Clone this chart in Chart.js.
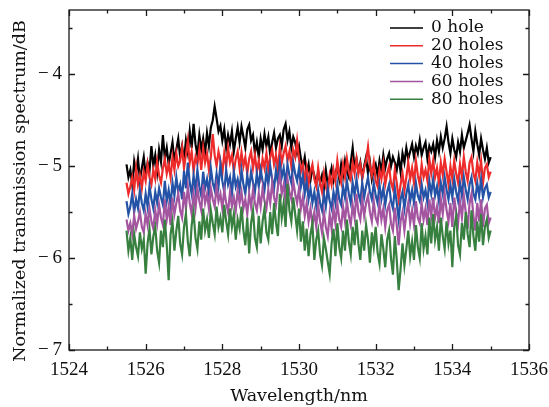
<!DOCTYPE html>
<html>
<head>
<meta charset="utf-8">
<script src="https://cdn.jsdelivr.net/npm/chart.js@4.4.0/dist/chart.umd.min.js"></script>
<style>
  html, body { margin: 0; padding: 0; background: #fff; }
</style>
</head>
<body>
<canvas id="chart" width="549" height="407"></canvas>
<script>
// wavelength grid: 1525.50 nm to 1535.00 nm, one sample every 0.05 nm
var startWl = 1525.5;
var stepWl = 0.05;

var seriesNames = ['0 hole', '20 holes', '40 holes', '60 holes', '80 holes'];
var seriesColors = ['#000000', '#ee2b2b', '#2352a6', '#a3559f', '#37803f'];
var yTitle = 'Normalized transmission spectrum/dB';

// values (dB), one row per nm
var hole0 = [
    -4.98, -5.12, -5.04, -5.20, -4.95, -5.08, -4.92, -5.15, -5.02, -4.90,
    -5.10, -4.96, -5.05, -4.78, -5.00, -4.88, -5.06, -4.82, -4.95, -4.66,
    -4.92, -4.80, -4.98, -4.86, -4.74, -4.95, -4.82, -4.70, -4.90, -4.78,
    -4.94, -4.72, -4.85, -4.62, -4.80, -4.54, -4.76, -4.88, -4.66, -4.82,
    -4.70, -4.86, -4.64, -4.78, -4.58, -4.50, -4.35, -4.48, -4.62, -4.56,
    -4.72, -4.60, -4.80, -4.66, -4.76, -4.62, -4.84, -4.70, -4.58, -4.74,
    -4.57, -4.68, -4.80, -4.60, -4.55, -4.72, -4.66, -4.86, -4.74, -4.90,
    -4.70, -4.82, -4.65, -4.78, -4.68, -4.88, -4.74, -4.64, -4.80, -4.70,
    -4.66, -4.78, -4.60, -4.54, -4.72, -4.62, -4.80, -4.68, -4.74, -4.86,
    -4.78, -4.92, -5.00, -4.90, -5.08, -4.98, -5.15, -5.02, -5.10, -5.20,
    -5.06, -5.18, -5.10, -5.25, -5.04, -5.20, -5.12, -5.02, -5.16, -5.08,
    -5.00, -5.14, -4.98, -5.10, -4.94, -5.06, -5.12, -4.96, -4.80, -5.02,
    -4.92, -5.06, -4.96, -5.12, -5.00, -4.90, -5.08, -4.96, -5.14, -5.04,
    -4.98, -5.10, -4.94, -5.06, -4.88, -5.02, -4.92, -4.86, -5.00, -4.90,
    -4.96, -5.04, -4.90, -5.06, -4.86, -4.96, -4.80, -4.92, -4.84, -4.76,
    -4.90, -4.78, -4.86, -4.72, -4.88, -4.80, -4.74, -4.92, -4.78, -4.84,
    -4.76, -4.90, -4.72, -4.84, -4.68, -4.80, -4.70, -4.57, -4.74, -4.86,
    -4.70, -4.82, -4.90, -4.74, -4.84, -4.66, -4.80, -4.72, -4.64, -4.55,
    -4.70, -4.84, -4.62, -4.76, -4.88, -4.70, -4.82, -4.92, -4.80, -4.96, -4.90
];
var holes20 = [
    -5.18, -5.30, -5.22, -5.12, -5.26, -5.02, -5.20, -5.10, -5.24, -5.06,
    -5.16, -4.98, -5.12, -5.20, -5.04, -5.14, -4.95, -5.10, -5.18, -5.02,
    -4.92, -5.08, -4.98, -5.12, -4.90, -5.04, -4.86, -5.00, -4.94, -4.80,
    -5.02, -4.88, -4.72, -4.96, -4.84, -5.06, -4.90, -4.98, -4.82, -5.04,
    -4.80, -4.96, -4.86, -5.04, -4.90, -4.65, -4.88, -5.00, -4.84, -4.94,
    -5.08, -4.86, -5.00, -4.80, -4.96, -4.88, -5.06, -4.92, -4.84, -5.02,
    -4.85, -5.00, -4.90, -5.08, -4.92, -4.84, -5.02, -4.88, -5.06, -4.94,
    -5.10, -4.92, -5.02, -4.86, -5.04, -4.90, -4.82, -4.98, -4.88, -5.04,
    -4.80, -4.96, -4.86, -4.78, -4.94, -4.84, -5.00, -4.82, -4.90, -4.72,
    -4.92, -5.06, -4.98, -5.15, -5.02, -5.20, -5.06, -4.98, -5.14, -5.22,
    -5.02, -5.18, -5.28, -5.08, -5.22, -5.30, -5.10, -5.20, -5.04, -5.16,
    -4.94, -5.10, -5.18, -4.98, -5.12, -4.92, -5.06, -5.14, -4.96, -5.08,
    -4.92, -5.08, -4.98, -5.14, -5.02, -4.94, -4.79, -5.00, -5.10, -4.96,
    -5.16, -5.22, -5.04, -5.14, -4.98, -5.20, -5.08, -5.00, -5.18, -5.25,
    -5.04, -5.18, -5.36, -5.20, -5.08, -5.26, -5.12, -4.96, -5.14, -5.02,
    -5.18, -4.94, -5.10, -5.20, -4.98, -5.12, -5.04, -5.16, -4.92, -5.08,
    -4.94, -5.12, -5.02, -5.18, -4.96, -5.10, -4.92, -5.06, -5.20, -5.00,
    -5.14, -4.94, -5.08, -5.18, -4.98, -5.12, -4.90, -5.06, -5.16, -4.96,
    -4.90, -5.08, -5.16, -4.96, -5.10, -4.94, -5.18, -5.02, -4.98, -5.12, -5.06
];
var holes40 = [
    -5.38, -5.52, -5.44, -5.30, -5.50, -5.36, -5.46, -5.26, -5.40, -5.48,
    -5.30, -5.44, -5.22, -5.36, -5.46, -5.28, -5.40, -5.24, -5.34, -5.42,
    -5.16, -5.38, -5.26, -5.42, -5.18, -5.32, -5.12, -5.28, -5.20, -5.36,
    -5.05, -5.24, -4.96, -5.18, -5.30, -5.10, -5.26, -5.04, -5.22, -5.32,
    -5.06, -5.24, -5.14, -5.30, -5.02, -5.18, -5.26, -5.08, -5.22, -4.98,
    -5.16, -5.28, -5.04, -5.20, -5.12, -5.30, -5.06, -5.22, -5.14, -5.26,
    -5.04, -5.20, -5.30, -5.10, -5.24, -5.06, -5.18, -5.28, -5.08, -5.22,
    -5.04, -5.16, -5.26, -5.06, -5.20, -5.00, -5.14, -5.24, -5.04, -5.18,
    -4.96, -5.12, -5.02, -5.20, -4.98, -5.10, -5.18, -4.96, -5.08, -5.16,
    -5.02, -5.22, -5.10, -5.30, -5.16, -5.36, -5.24, -5.40, -5.28, -5.44,
    -5.26, -5.40, -5.48, -5.30, -5.44, -5.24, -5.38, -5.46, -5.28, -5.40,
    -5.20, -5.36, -5.42, -5.22, -5.34, -5.16, -5.30, -5.40, -5.18, -5.32,
    -5.14, -5.30, -5.38, -5.18, -5.34, -5.22, -5.12, -5.28, -5.36, -5.18,
    -5.32, -5.40, -5.20, -5.36, -5.24, -5.42, -5.28, -5.20, -5.38, -5.46,
    -5.24, -5.40, -5.58, -5.36, -5.28, -5.46, -5.30, -5.20, -5.38, -5.26,
    -5.40, -5.18, -5.32, -5.38, -5.20, -5.34, -5.26, -5.40, -5.16, -5.30,
    -5.14, -5.32, -5.22, -5.38, -5.18, -5.30, -5.12, -5.26, -5.36, -5.20,
    -5.34, -5.14, -5.28, -5.38, -5.18, -5.32, -5.12, -5.26, -5.36, -5.20,
    -5.12, -5.30, -5.36, -5.18, -5.32, -5.14, -5.34, -5.24, -5.20, -5.34, -5.28
];
var holes60 = [
    -5.58, -5.70, -5.62, -5.74, -5.54, -5.68, -5.60, -5.50, -5.66, -5.72,
    -5.52, -5.64, -5.46, -5.60, -5.68, -5.48, -5.62, -5.42, -5.56, -5.64,
    -5.36, -5.58, -5.44, -5.64, -5.34, -5.52, -5.40, -5.30, -5.48, -5.56,
    -5.28, -5.46, -5.22, -5.40, -5.52, -5.30, -5.46, -5.24, -5.38, -5.48,
    -5.20, -5.40, -5.30, -5.46, -5.24, -5.36, -5.44, -5.22, -5.38, -5.30,
    -5.46, -5.26, -5.40, -5.50, -5.28, -5.44, -5.34, -5.48, -5.26, -5.40,
    -5.28, -5.46, -5.36, -5.52, -5.30, -5.44, -5.26, -5.40, -5.48, -5.30,
    -5.44, -5.24, -5.38, -5.46, -5.26, -5.40, -5.18, -5.34, -5.42, -5.22,
    -5.10, -5.30, -5.20, -5.38, -5.14, -5.28, -5.36, -5.16, -5.30, -5.40,
    -5.24, -5.46, -5.34, -5.54, -5.40, -5.60, -5.46, -5.64, -5.50, -5.66,
    -5.42, -5.60, -5.72, -5.50, -5.66, -5.76, -5.52, -5.68, -5.46, -5.62,
    -5.40, -5.58, -5.66, -5.44, -5.60, -5.38, -5.54, -5.64, -5.42, -5.56,
    -5.30, -5.50, -5.58, -5.36, -5.54, -5.40, -5.32, -5.50, -5.60, -5.38,
    -5.56, -5.62, -5.40, -5.58, -5.46, -5.66, -5.48, -5.42, -5.62, -5.70,
    -5.45, -5.64, -5.86, -5.60, -5.50, -5.70, -5.52, -5.40, -5.62, -5.48,
    -5.64, -5.38, -5.56, -5.62, -5.40, -5.58, -5.46, -5.64, -5.36, -5.54,
    -5.34, -5.56, -5.44, -5.62, -5.36, -5.52, -5.30, -5.48, -5.60, -5.40,
    -5.66, -5.34, -5.50, -5.62, -5.38, -5.56, -5.32, -5.50, -5.68, -5.40,
    -5.30, -5.54, -5.70, -5.40, -5.60, -5.36, -5.66, -5.46, -5.42, -5.62, -5.56
];
var holes80 = [
    -5.70, -5.92, -5.78, -6.02, -5.74, -5.88, -5.98, -5.72, -5.90, -5.80,
    -6.17, -5.84, -5.68, -5.96, -5.76, -5.66, -5.92, -6.05, -5.70, -5.88,
    -5.58, -5.86, -6.24, -5.74, -5.60, -5.92, -5.70, -5.54, -5.84, -5.96,
    -5.66, -5.52, -5.82, -5.98, -5.64, -5.50, -5.78, -5.90, -5.60, -5.80,
    -5.46, -5.70, -5.58, -5.78, -5.48, -5.62, -5.74, -5.44, -5.66, -5.56,
    -5.72, -5.42, -5.60, -5.74, -5.46, -5.66, -5.52, -5.80, -5.58, -5.68,
    -5.44, -5.70, -5.86, -5.56, -5.95, -5.62, -5.48, -5.78, -5.88, -5.54,
    -5.84, -5.60, -5.46, -5.72, -5.80, -5.50, -5.74, -5.40, -5.62, -5.76,
    -5.30, -5.56, -5.40, -5.66, -5.19, -5.48, -5.60, -5.34, -5.52, -5.70,
    -5.46, -5.82, -5.60, -5.92, -5.68, -5.98, -5.74, -5.62, -6.02, -5.80,
    -5.70, -5.96, -6.08, -5.78, -5.90, -6.04, -6.17, -5.84, -5.68, -5.98,
    -5.62, -5.88, -6.00, -5.70, -5.92, -5.58, -5.82, -5.96, -5.66, -5.86,
    -5.58, -5.84, -6.02, -5.70, -5.92, -5.64, -5.80, -6.05, -5.72, -5.88,
    -5.66, -5.94, -6.06, -5.74, -5.90, -6.10, -5.80, -5.70, -6.00, -6.18,
    -5.76, -6.02, -6.35, -6.12, -5.84, -6.08, -5.90, -5.70, -5.98, -5.82,
    -6.02, -5.64, -5.88, -6.00, -5.62, -5.90, -5.76, -5.96, -5.56, -5.84,
    -5.52, -5.80, -5.66, -5.92, -5.56, -5.76, -5.90, -5.60, -5.84, -5.70,
    -6.10, -5.66, -5.54, -5.86, -5.96, -5.62, -5.80, -5.50, -5.74, -5.88,
    -5.48, -5.76, -5.92, -5.60, -5.82, -5.52, -5.86, -5.66, -5.58, -5.78, -5.70
];
var allSeries = [hole0, holes20, holes40, holes60, holes80];

var xTicks = [1524, 1526, 1528, 1530, 1532, 1534, 1536];
var yTicks = [-7, -6, -5, -4];

function toPoints(values) {
    return values.map(function (v, i) {
        return { x: +(startWl + i * stepWl).toFixed(2), y: v };
    });
}

// frame on all four sides with inward major/minor ticks, plus the y title
var frameTicks = {
    id: 'frameTicks',
    afterDraw: function (chart) {
        var ctx = chart.ctx, a = chart.chartArea;
        var xs = chart.scales.x, ys = chart.scales.y;
        ctx.save();
        ctx.strokeStyle = '#1a1a1a';
        ctx.lineWidth = 1.3;
        ctx.strokeRect(a.left, a.top, a.right - a.left, a.bottom - a.top);
        ctx.beginPath();
        for (var k = 0; xTicks[0] + k <= xTicks[xTicks.length - 1]; k++) {
            var px = Math.round(xs.getPixelForValue(xTicks[0] + k)) + 0.5;
            var len = (k % 2 === 0) ? 6 : 3.5;
            ctx.moveTo(px, a.bottom); ctx.lineTo(px, a.bottom - len);
            ctx.moveTo(px, a.top); ctx.lineTo(px, a.top + len);
        }
        for (var j = 0; yTicks[0] + j * 0.5 <= ys.max; j++) {
            var py = Math.round(ys.getPixelForValue(yTicks[0] + j * 0.5)) + 0.5;
            var ylen = (j % 2 === 0) ? 6 : 3.5;
            ctx.moveTo(a.left, py); ctx.lineTo(a.left + ylen, py);
            ctx.moveTo(a.right, py); ctx.lineTo(a.right - ylen, py);
        }
        ctx.stroke();

        // y axis title sits a bit below the plot centre in the original
        ctx.translate(20, (a.top + a.bottom) / 2 + 11);
        ctx.rotate(-Math.PI / 2);
        ctx.font = '17.5px "DejaVu Serif"';
        ctx.fillStyle = '#111';
        ctx.textAlign = 'center';
        ctx.textBaseline = 'middle';
        ctx.fillText(yTitle, 0, 0);
        ctx.restore();
    }
};

// legend in the upper right corner of the plot
var legendBox = {
    id: 'legendBox',
    afterDraw: function (chart) {
        var ctx = chart.ctx, a = chart.chartArea;
        var x0 = a.right - 139, y0 = a.top + 18;
        ctx.save();
        ctx.font = '17px "DejaVu Serif"';
        ctx.textBaseline = 'middle';
        ctx.fillStyle = '#111';
        seriesNames.forEach(function (name, i) {
            var y = y0 + i * 17.8;
            ctx.strokeStyle = seriesColors[i];
            ctx.lineWidth = 1.5;
            ctx.beginPath();
            ctx.moveTo(x0, y); ctx.lineTo(x0 + 33, y);
            ctx.stroke();
            ctx.fillText(name, x0 + 41, y);
        });
        ctx.restore();
    }
};

new Chart(document.getElementById('chart'), {
    type: 'line',
    data: {
        datasets: allSeries.map(function (values, i) {
            return {
                label: seriesNames[i],
                data: toPoints(values),
                borderColor: seriesColors[i],
                borderWidth: 2.2,
                pointRadius: 0,
                tension: 0,
                order: allSeries.length - i
            };
        })
    },
    options: {
        responsive: false,
        animation: false,
        layout: { padding: { top: 10, right: 20, left: 0, bottom: 0 } },
        plugins: {
            legend: { display: false },
            tooltip: { enabled: false }
        },
        scales: {
            x: {
                type: 'linear',
                min: xTicks[0],
                max: xTicks[xTicks.length - 1],
                grid: { display: false, drawTicks: false },
                border: { display: false },
                afterBuildTicks: function (scale) {
                    scale.ticks = xTicks.map(function (v) { return { value: v }; });
                },
                afterFit: function (scale) {
                    scale.height = 57;
                    scale.paddingLeft = 0;
                    scale.paddingRight = 0;
                },
                ticks: {
                    padding: 9,
                    color: '#111',
                    font: { family: '"Liberation Serif"', size: 19 },
                    maxRotation: 0,
                    autoSkip: false,
                    callback: function (v) { return String(v); }
                },
                title: {
                    display: true,
                    text: 'Wavelength/nm',
                    color: '#111',
                    font: { family: '"DejaVu Serif"', size: 17.5 },
                    padding: { top: 0, bottom: 0 }
                }
            },
            y: {
                min: yTicks[0],
                max: -3.3,
                grid: { display: false, drawTicks: false },
                border: { display: false },
                afterBuildTicks: function (scale) {
                    scale.ticks = yTicks.map(function (v) { return { value: v }; });
                },
                afterFit: function (scale) {
                    scale.width = 69;
                    scale.paddingTop = 0;
                    scale.paddingBottom = 0;
                },
                ticks: {
                    padding: 7,
                    color: '#111',
                    font: { family: '"Liberation Serif"', size: 19 },
                    callback: function (v) { return '\u2212\u2009' + Math.abs(v); }
                },
                title: { display: false }
            }
        }
    },
    plugins: [frameTicks, legendBox]
});
</script>
</body>
</html>
